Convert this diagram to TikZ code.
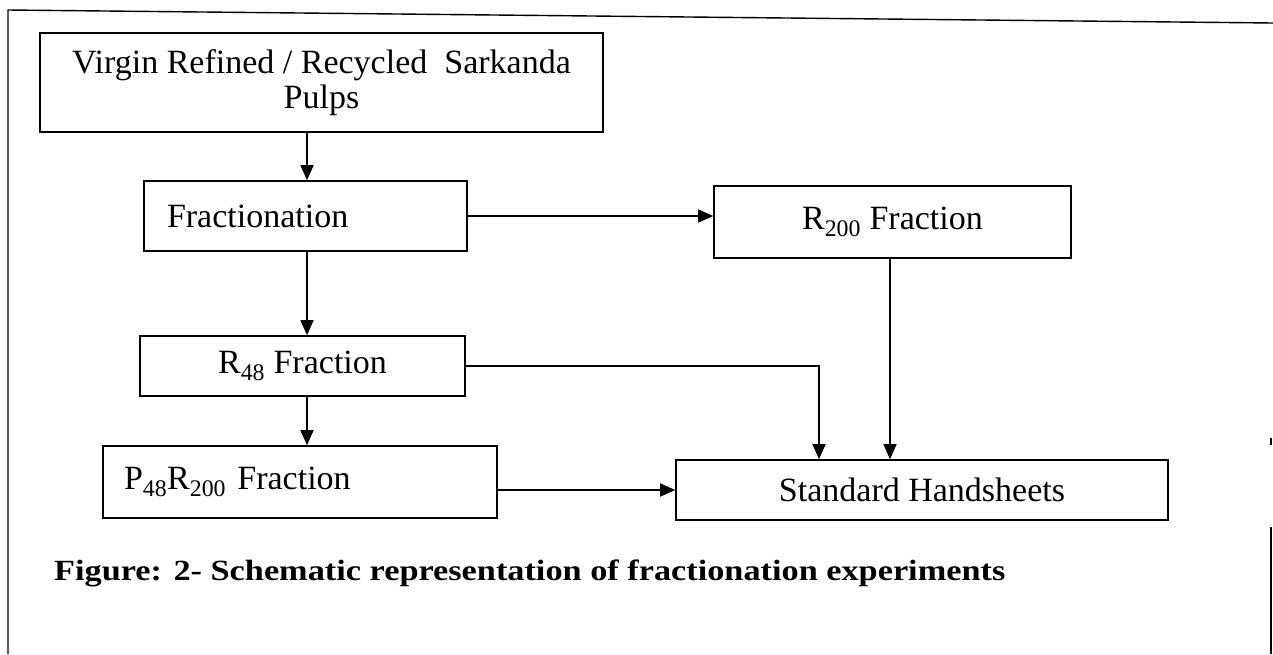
\documentclass[tikz,border=0pt]{standalone}
\usepackage{fontspec}
\setmainfont{Liberation Serif}
\newfontfamily\capfont[FakeStretch=1.17]{Liberation Serif}
\usepackage{tikz}
\usetikzlibrary{arrows.meta}
\tikzset{
  fbox/.style={draw, line width=1.6pt, rectangle, inner sep=0pt, minimum width=#1},
  flow/.style={line width=1.3pt, -{Triangle[length=15pt,width=13pt]}}
}

\begin{document}
\begin{tikzpicture}[x=1pt,y=-1pt]
\useasboundingbox (0,0) rectangle (1273,654);
\fontsize{34}{35}\selectfont
%%% The page frame (scanned, top edge slightly tilted)
\draw[line width=1.4pt] (8,654) -- (8,10) -- (1273,23);
\draw[line width=1.4pt] (1271,527) -- (1271,654);
\draw[line width=1.4pt] (1271,438) -- (1271,445);
%%% The boxes of the scheme
\node[fbox=563pt, minimum height=99pt, align=center] (pulps) at (321.5,82.5) {Virgin Refined / Recycled\ \ Sarkanda\\Pulps};
\node[fbox=323pt, minimum height=70pt, text width=277pt, inner xsep=23pt, align=left] (fract) at (305.5,216) {Fractionation};
\node[fbox=357pt, minimum height=72pt] (rtwo) at (892.5,222) {R\textsubscript{200} Fraction};
\node[fbox=325pt, minimum height=60pt] (rfour) at (302.5,366) {R\textsubscript{48} Fraction};
\node[fbox=394pt, minimum height=72pt, text width=352pt, inner xsep=21pt, align=left] (pr) at (300,482) {P\textsubscript{48}R\textsubscript{200} Fraction};
\node[fbox=492pt, minimum height=60pt] (hand) at (922,490) {Standard Handsheets};
%%% The edges between the boxes
\draw[flow] (pulps.south -| 307,0) -- (fract.north -| 307,0);
\draw[flow] (fract.south -| 307,0) -- (rfour.north -| 307,0);
\draw[flow] (rfour.south -| 307,0) -- (pr.north -| 307,0);
\draw[flow] (fract.east) -- (fract.east -| rtwo.west);
\draw[flow] (rfour.east) -| ([xshift=-103pt]hand.north);
\draw[flow] (rtwo.south -| 890,0) -- (hand.north -| 890,0);
\draw[flow] (hand.west -| pr.east) -- (hand.west);
%%% Caption
\node[anchor=west, inner sep=0pt, font=\capfont\bfseries\fontsize{29.3}{35}\selectfont] (cap) at (54,573) {Figure: 2- Schematic representation of fractionation experiments};
\end{tikzpicture}
\end{document}
